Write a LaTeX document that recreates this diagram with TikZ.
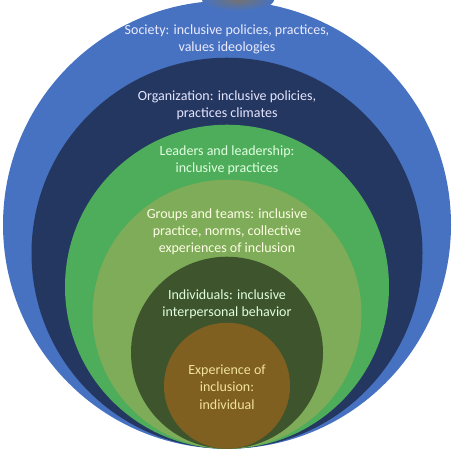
\documentclass[tikz,border=0pt]{standalone}
\usepackage{fontspec}
\setmainfont{Carlito}
\usepackage{tikz}
\usetikzlibrary{calc,positioning}
\definecolor{society_blue}{RGB}{71,114,193}
\definecolor{org_navy}{RGB}{36,55,96}
\definecolor{leader_green}{RGB}{78,173,91}
\definecolor{group_green}{RGB}{126,172,88}
\definecolor{indiv_green}{RGB}{62,84,44}
\definecolor{exp_brown}{RGB}{127,96,32}
\tikzset{
ring_item/.style={circle, inner sep=0pt, anchor=south, minimum size={#1*0.75pt}},
ring_label/.style={align=center, font=\fontsize{10.5}{12.8}\selectfont, inner sep=0pt, anchor=center}
}

\begin{document}
\begin{tikzpicture}[x=0.75pt, y=0.75pt]
    \useasboundingbox (0,0) rectangle (453,449);
    \coordinate (base) at (227,0);
    \node[ring_item=448, fill=society_blue] (society) at (base) {};
    \shade[inner color=black!55, outer color=society_blue] (238,449) ellipse (36 and 11);
    \node[ring_item=391, fill=org_navy] (organization) at (base) {};
    \node[ring_item=324, fill=leader_green] (leaders) at (base) {};
    \node[ring_item=269, fill=group_green] (groups) at (base) {};
    \node[ring_item=192, fill=indiv_green] (individuals) at (base) {};
    \node[ring_item=126, fill=exp_brown] (experience) at (base) {};
    \node[ring_label, text=white!92!blue] (society_text) at ($(society.north)+(0,-38.5)$) {Society: inclusive policies, practices,\\values ideologies};
    \node[ring_label, text=white!90!blue] (organization_text) at ($(organization.north)+(0,-47.5)$) {Organization: inclusive policies,\\practices climates};
    \node[ring_label, text=white!88!green] (leaders_text) at ($(leaders.north)+(0,-36)$) {Leaders and leadership:\\inclusive practices};
    \node[ring_label, text=white!90!yellow] (groups_text) at ($(groups.north)+(0,-52)$) {Groups and teams: inclusive\\practice, norms, collective\\experiences of inclusion};
    \node[ring_label, text=white!88!green] (individuals_text) at ($(individuals.north)+(0,-47.5)$) {Individuals: inclusive\\interpersonal behavior};
    \node[ring_label, text={rgb,255:red,242;green,226;blue,160}] (experience_text) at ($(experience.center)+(0,-1.5)$) {Experience of\\inclusion:\\individual};
\end{tikzpicture}
\end{document}
